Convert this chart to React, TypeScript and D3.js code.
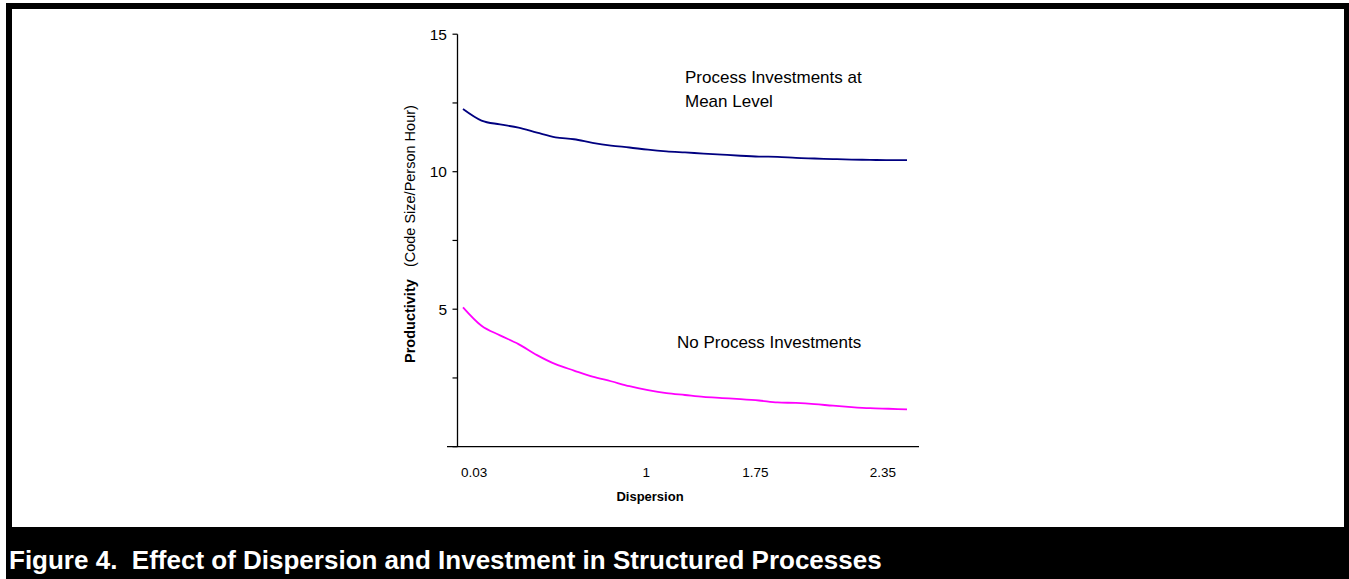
import React from "react";
import * as d3 from "d3";

const W = 1349;
const H = 579;

// Sampled curve values (evenly spaced samples along the dispersion axis)
const meanLevel = [12.28, 11.86, 11.72, 11.6, 11.42, 11.25, 11.18, 11.05, 10.95, 10.88, 10.8, 10.74, 10.7, 10.66, 10.62, 10.58, 10.55, 10.54, 10.5, 10.48, 10.46, 10.44, 10.43, 10.42, 10.42];
const noInvest = [5.07, 4.4, 4.05, 3.73, 3.33, 3.0, 2.77, 2.55, 2.38, 2.2, 2.06, 1.95, 1.88, 1.81, 1.77, 1.73, 1.68, 1.61, 1.59, 1.55, 1.49, 1.44, 1.4, 1.38, 1.36];

// x tick labels and their (fractional) sample positions
const xTickLabels = ["0.03", "1", "1.75", "2.35"];
const xTickIdx = [0.6, 9.9, 15.8, 22.7];

const yTicksAll = [0, 2.5, 5, 7.5, 10, 12.5, 15];
const yLabels = [5, 10, 15];

export default function App() {
  const n = meanLevel.length;
  const x = d3.scaleLinear().domain([0, n - 1]).range([463, 907]);
  const y = d3.scaleLinear().domain([0, 15]).range([446.7, 34.2]);
  const line = d3
    .line<number>()
    .x((_, i) => x(i))
    .y((d) => y(d))
    .curve(d3.curveMonotoneX);

  const font = "Arial, 'Liberation Sans', sans-serif";
  const axisX = 457.5;

  return (
    <svg width={W} height={H} style={{ position: "absolute", left: 0, top: 0, display: "block" }} fontFamily={font}>
      <rect x={0} y={0} width={W} height={H} fill="#fff" />
      <rect x={6} y={3} width={W - 6} height={H - 3} fill="#000" />
      <rect x={12} y={9} width={1344 - 12} height={527 - 9} fill="#fff" />

      {/* y axis */}
      <line x1={axisX} x2={axisX} y1={y(15)} y2={y(0)} stroke="#000" strokeWidth={1.3} />
      {yTicksAll.map((t) => (
        <line key={t} x1={axisX - 5} x2={axisX} y1={y(t)} y2={y(t)} stroke="#000" strokeWidth={1.2} />
      ))}
      {yLabels.map((t) => (
        <text key={t} x={447} y={y(t)} dy="0.35em" textAnchor="end" fontSize={15.5} fill="#000">
          {t}
        </text>
      ))}
      {/* x axis */}
      <line x1={447} x2={919} y1={y(0)} y2={y(0)} stroke="#000" strokeWidth={1.3} />
      {xTickLabels.map((l, i) => (
        <text key={l} x={x(xTickIdx[i])} y={477} textAnchor="middle" fontSize={13.5} fill="#000">
          {l}
        </text>
      ))}
      <text x={650} y={501} textAnchor="middle" fontSize={13} fontWeight="bold" fill="#000">
        Dispersion
      </text>
      <text transform={`translate(415, 363) rotate(-90)`} textAnchor="start" fontSize={14.5} fill="#000">
        <tspan fontWeight="bold">Productivity</tspan>
        <tspan>{"\u00a0\u00a0\u00a0(Code Size/Person Hour)"}</tspan>
      </text>

      {/* series */}
      <path d={line(meanLevel) || ""} fill="none" stroke="#000080" strokeWidth={1.8} />
      <path d={line(noInvest) || ""} fill="none" stroke="#FF00FF" strokeWidth={1.8} />

      <text x={685} y={83} fontSize={17} fill="#000">Process Investments at</text>
      <text x={685} y={107} fontSize={17} fill="#000">Mean Level</text>
      <text x={677} y={348} fontSize={17} fill="#000">No Process Investments</text>

      <text x={9} y={569} fontSize={26} fontWeight="bold" fill="#fff">
        {"Figure 4.\u00a0\u00a0Effect of Dispersion and Investment in Structured Processes"}
      </text>
    </svg>
  );
}
